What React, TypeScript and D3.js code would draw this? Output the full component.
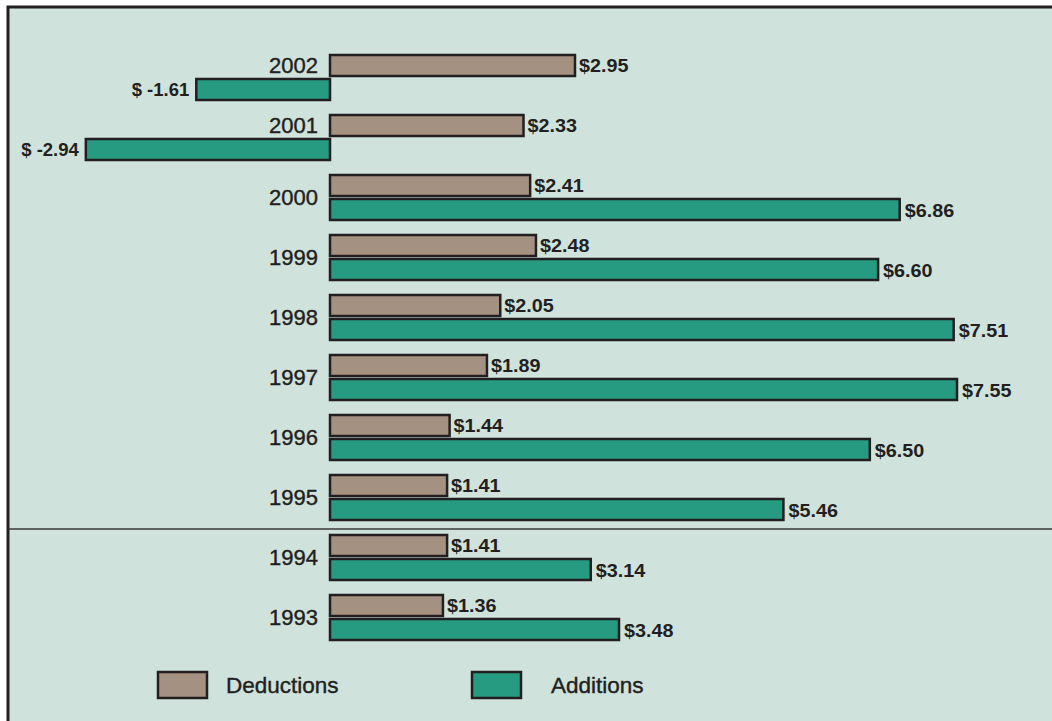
import React from 'react';
import { scaleLinear, scaleBand } from 'd3';

const years = ['2002', '2001', '2000', '1999', '1998', '1997', '1996', '1995', '1994', '1993'];
const deductions = [2.95, 2.33, 2.41, 2.48, 2.05, 1.89, 1.44, 1.41, 1.41, 1.36];
const additions = [-1.61, -2.94, 6.86, 6.6, 7.51, 7.55, 6.5, 5.46, 3.14, 3.48];
const seriesNames = ['Deductions', 'Additions'];

const width = 1052;
const height = 721;
const colors = { ded: '#a59181', add: '#269b82', bg: '#cfe3dc', ink: '#231f20' };

const fmt = (v: number) => (v < 0 ? `$ ${v.toFixed(2)}` : `$${v.toFixed(2)}`);

export default function App() {
  const x = scaleLinear().domain([0, 7.55]).range([330, 957]);
  const y = scaleBand().domain(years).range([55, 655]).paddingInner(0).paddingOuter(0);
  const barH = 21;
  const gap = 3;
  // divider between the 1995 and 1994 groups
  const sepY = y('1994')! - 6;

  return (
    <div style={{ position: 'absolute', left: 0, top: 0 }}>
      <svg width={width} height={height} style={{ display: 'block', fontFamily: 'Liberation Sans, Arial, sans-serif' }}>
        <rect x={8} y={7} width={width} height={height} fill={colors.bg} stroke={colors.ink} strokeWidth={3} />
        <line x1={9} x2={width} y1={sepY} y2={sepY} stroke="#3a3a3a" strokeWidth={1.5} />
        {years.map((yr, i) => {
          const top = y(yr)!;
          const d = deductions[i];
          const a = additions[i];
          const aTop = top + barH + gap;
          const labelY = a < 0 ? top + barH / 2 : top + barH + gap / 2;
          return (
            <g key={yr}>
              <rect x={x(0)} y={top} width={x(d) - x(0)} height={barH} fill={colors.ded} stroke={colors.ink} strokeWidth={2.5} />
              <rect x={Math.min(x(0), x(a))} y={aTop} width={Math.abs(x(a) - x(0))} height={barH} fill={colors.add} stroke={colors.ink} strokeWidth={2.5} />
              <text x={318} y={labelY} dy="0.36em" textAnchor="end" fontSize={22} fill={colors.ink} stroke={colors.ink} strokeWidth={0.4}>{yr}</text>
              <text x={x(d) + 4} y={top + barH / 2} dy="0.36em" fontSize={18.5} fontWeight="bold" fill={colors.ink} textLength={fmt(d).length * 9.9} lengthAdjust="spacingAndGlyphs">{fmt(d)}</text>
              {a < 0 ? (
                <text x={x(a) - 7} y={aTop + barH / 2} dy="0.36em" textAnchor="end" fontSize={18.5} fontWeight="bold" fill={colors.ink}>{fmt(a)}</text>
              ) : (
                <text x={x(a) + 5} y={aTop + barH / 2 + 1} dy="0.36em" fontSize={18.5} fontWeight="bold" fill={colors.ink} textLength={fmt(a).length * 9.9} lengthAdjust="spacingAndGlyphs">{fmt(a)}</text>
              )}
            </g>
          );
        })}
        {seriesNames.map((s, i) => {
          const sx = i === 0 ? 158 : 472;
          const tx = i === 0 ? 226 : 551;
          return (
            <g key={s}>
              <rect x={sx} y={672} width={49} height={26} fill={i === 0 ? colors.ded : colors.add} stroke={colors.ink} strokeWidth={2.5} />
              <text x={tx} y={685} dy="0.36em" fontSize={22.5} fill={colors.ink} stroke={colors.ink} strokeWidth={0.4}>{s}</text>
            </g>
          );
        })}
      </svg>
    </div>
  );
}
